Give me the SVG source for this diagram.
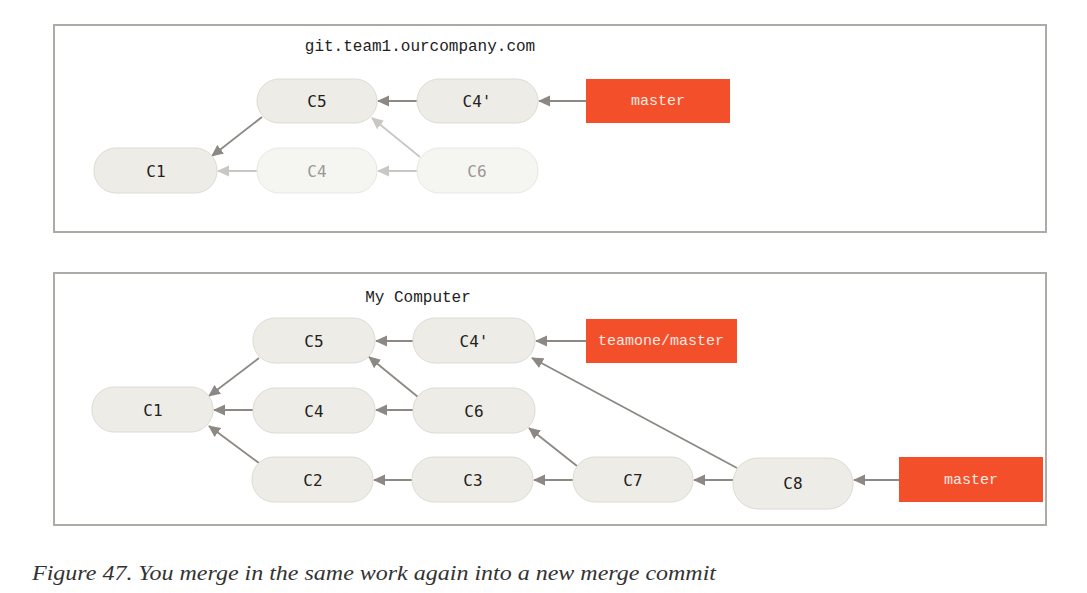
<svg xmlns="http://www.w3.org/2000/svg" width="1087" height="593" viewBox="0 0 1087 593">
<defs>
<style>
.frame{fill:#fff;stroke:#aeaba7;stroke-width:2}
.title{font-family:"Liberation Mono","DejaVu Sans Mono",monospace;font-size:16px;fill:#222;text-anchor:middle}
.c{fill:#edece6;stroke:#dcdad4;stroke-width:1}
.cf{fill:#f5f5f1;stroke:#e8e7e2;stroke-width:1}
.t{font-family:"DejaVu Sans Mono","Liberation Mono",monospace;font-size:16px;fill:#222;text-anchor:middle;dominant-baseline:central}
.tf{fill:#9a9894}
.b{fill:#f44f2b}
.bt{font-family:"Liberation Mono","DejaVu Sans Mono",monospace;font-size:15px;fill:#fbe9e2;text-anchor:middle;dominant-baseline:central}
.a{stroke:#8d8883;stroke-width:1.8;fill:none;marker-end:url(#ah)}
.af{stroke:#c9c7c3;stroke-width:1.8;fill:none;marker-end:url(#ahf)}
.cap{font-family:"Liberation Serif","DejaVu Serif",serif;font-style:italic;font-size:21px;fill:#333}
</style>
<marker id="ah" markerUnits="userSpaceOnUse" markerWidth="12" markerHeight="12" viewBox="0 0 12 12" refX="11" refY="6" orient="auto"><path d="M0,0.5 L12,6 L0,11.5 Z" fill="#8d8883"/></marker>
<marker id="ahf" markerUnits="userSpaceOnUse" markerWidth="12" markerHeight="12" viewBox="0 0 12 12" refX="11" refY="6" orient="auto"><path d="M0,0.5 L12,6 L0,11.5 Z" fill="#c9c7c3"/></marker>
</defs>
<rect class="frame" x="54" y="25" width="992" height="207"/>
<rect class="frame" x="54" y="273" width="992" height="252"/>
<text class="title" x="420" y="51">git.team1.ourcompany.com</text>
<text class="title" x="418" y="302">My Computer</text>
<g id="connectors">
<line class="a" x1="417" y1="101" x2="378" y2="101"/>
<line class="a" x1="586" y1="101" x2="539" y2="101"/>
<line class="a" x1="262" y1="117" x2="212" y2="156"/>
<line class="af" x1="420" y1="157" x2="372" y2="118"/>
<line class="af" x1="257" y1="171" x2="218" y2="171"/>
<line class="af" x1="417" y1="171" x2="378" y2="171"/>
<line class="a" x1="413" y1="341" x2="376" y2="341"/>
<line class="a" x1="586" y1="341" x2="536" y2="341"/>
<line class="a" x1="259" y1="358" x2="209" y2="396"/>
<line class="a" x1="253" y1="410" x2="214" y2="410"/>
<line class="a" x1="413" y1="410" x2="376" y2="410"/>
<line class="a" x1="418" y1="397" x2="369" y2="357"/>
<line class="a" x1="259" y1="463" x2="209" y2="426"/>
<line class="a" x1="412" y1="480" x2="374" y2="480"/>
<line class="a" x1="573" y1="480" x2="534" y2="480"/>
<line class="a" x1="577" y1="466" x2="529" y2="428"/>
<line class="a" x1="737" y1="468" x2="532" y2="358"/>
<line class="a" x1="733" y1="480" x2="694" y2="480"/>
<line class="a" x1="899" y1="480" x2="854" y2="480"/>
</g>
<g id="t-c5"><rect class="c" x="257" y="79" width="120" height="44" rx="22"/><text class="t" x="317" y="101">C5</text></g>
<g id="t-c4p"><rect class="c" x="417" y="79" width="121" height="44" rx="22"/><text class="t" x="477" y="101">C4'</text></g>
<g id="t-master"><rect class="b" x="586" y="79" width="144" height="44"/><text class="bt" x="658" y="101">master</text></g>
<g id="t-c1"><rect class="c" x="94" y="148" width="123" height="45" rx="22"/><text class="t" x="156" y="171">C1</text></g>
<g id="t-c4"><rect class="cf" x="257" y="148" width="120" height="45" rx="22"/><text class="t tf" x="317" y="171">C4</text></g>
<g id="t-c6"><rect class="cf" x="417" y="148" width="121" height="45" rx="22"/><text class="t tf" x="477" y="171">C6</text></g>
<g id="b-c5"><rect class="c" x="253" y="318" width="122" height="45" rx="22"/><text class="t" x="314" y="341">C5</text></g>
<g id="b-c4p"><rect class="c" x="413" y="318" width="122" height="45" rx="22"/><text class="t" x="474" y="341">C4'</text></g>
<g id="b-teamone"><rect class="b" x="586" y="319" width="151" height="44"/><text class="bt" x="661" y="341">teamone/master</text></g>
<g id="b-c1"><rect class="c" x="92" y="387" width="121" height="45" rx="22"/><text class="t" x="153" y="410">C1</text></g>
<g id="b-c4"><rect class="c" x="253" y="388" width="122" height="45" rx="22"/><text class="t" x="314" y="411">C4</text></g>
<g id="b-c6"><rect class="c" x="413" y="388" width="122" height="45" rx="22"/><text class="t" x="474" y="411">C6</text></g>
<g id="b-c2"><rect class="c" x="252" y="457" width="121" height="45" rx="22"/><text class="t" x="313" y="480">C2</text></g>
<g id="b-c3"><rect class="c" x="412" y="457" width="121" height="45" rx="22"/><text class="t" x="473" y="480">C3</text></g>
<g id="b-c7"><rect class="c" x="573" y="457" width="120" height="45" rx="22"/><text class="t" x="633" y="480">C7</text></g>
<g id="b-c8"><rect class="c" x="733" y="458" width="120" height="51" rx="25"/><text class="t" x="793" y="483">C8</text></g>
<g id="b-master"><rect class="b" x="899" y="457" width="144" height="45"/><text class="bt" x="971" y="480">master</text></g>
<text class="cap" x="32" y="580" textLength="684" lengthAdjust="spacingAndGlyphs">Figure 47. You merge in the same work again into a new merge commit</text>
</svg>
